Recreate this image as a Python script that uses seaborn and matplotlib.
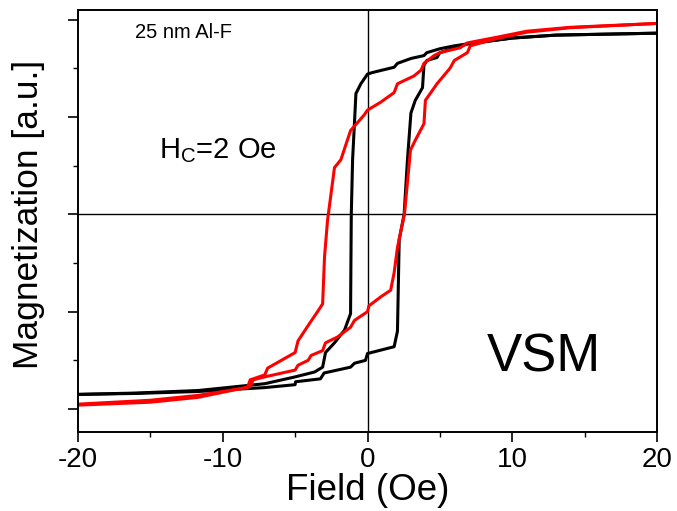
import matplotlib
matplotlib.use("Agg")
import matplotlib.pyplot as plt
import seaborn as sns
from matplotlib.ticker import MultipleLocator

# ---- data ----
black_down_x = [20, 13, 10, 6.9, 6.0, 5.0, 4.1, 3.9, 3.0, 2.07, 1.84, 1.0, 0.3, 0, -0.46, -0.8, -0.9, -1.03, -1.12, -1.15, -1.17, -1.59, -2.28, -2.9, -3.1, -3.66, -5.0, -7.1, -11.7, -16, -20]
black_down_y = [0.93, 0.92, 0.905, 0.875, 0.865, 0.85, 0.83, 0.815, 0.80, 0.775, 0.755, 0.74, 0.727, 0.72, 0.67, 0.62, 0.47, 0.28, 0.0, -0.3, -0.51, -0.595, -0.66, -0.71, -0.785, -0.81, -0.835, -0.87, -0.905, -0.918, -0.925]

black_up_x = [-20, -16, -11.7, -7.1, -5.0, -4.97, -3.25, -3.0, -1.17, -0.9, -0.14, 0, 1.84, 2.07, 2.19, 2.53, 2.76, 3.0, 3.3, 3.8, 3.9, 4.1, 4.8, 5.0, 6.9, 10, 13, 20]
black_up_y = [-0.925, -0.92, -0.91, -0.89, -0.875, -0.86, -0.845, -0.815, -0.785, -0.765, -0.75, -0.715, -0.68, -0.60, -0.13, 0.0, 0.28, 0.52, 0.585, 0.65, 0.765, 0.79, 0.805, 0.83, 0.875, 0.905, 0.92, 0.93]

red_down_x = [20, 14, 11, 9.0, 6.9, 6.4, 5.0, 4.6, 3.9, 3.7, 3.2, 2.07, 1.84, 0.9, 0, -0.23, -1.17, -1.84, -2.28, -2.76, -2.97, -3.1, -3.45, -4.0, -4.8, -5.0, -6.9, -7.1, -8.1, -8.3, -11.7, -15, -20]
red_down_y = [0.98, 0.96, 0.94, 0.91, 0.88, 0.855, 0.83, 0.815, 0.775, 0.74, 0.71, 0.67, 0.625, 0.575, 0.535, 0.51, 0.43, 0.28, 0.24, -0.03, -0.22, -0.46, -0.50, -0.56, -0.65, -0.71, -0.79, -0.825, -0.85, -0.89, -0.93, -0.955, -0.975]

red_up_x = [-20, -15, -11.7, -8.1, -7.9, -7.1, -5.0, -4.8, -4.1, -3.9, -3.1, -2.9, -2.07, -1.17, -0.9, 0, 0.1, 0.9, 1.6, 1.84, 2.07, 2.55, 2.97, 3.3, 3.9, 4.0, 4.8, 5.7, 6.0, 6.9, 7.1, 8.8, 11, 14, 20]
red_up_y = [-0.98, -0.965, -0.94, -0.885, -0.85, -0.835, -0.80, -0.775, -0.75, -0.725, -0.70, -0.66, -0.63, -0.58, -0.545, -0.50, -0.47, -0.425, -0.39, -0.30, -0.17, 0.0, 0.33, 0.38, 0.465, 0.585, 0.67, 0.75, 0.79, 0.83, 0.865, 0.90, 0.935, 0.958, 0.98]

x_ticks = [-20, -10, 0, 10, 20]

sns.set_style("ticks")
plt.rcParams['font.family'] = ['Liberation Sans', 'DejaVu Sans']
plt.rcParams['mathtext.fontset'] = 'custom'
plt.rcParams['mathtext.rm'] = 'Liberation Sans'
plt.rcParams['text.color'] = 'black'
plt.rcParams['axes.labelcolor'] = 'black'

fig = plt.figure(figsize=(6.77, 5.11), dpi=100)
ax = fig.add_axes([78/677, 1-432/511, (657-78)/677, (432-10)/511])

ax.axhline(0, color='black', lw=1.0, zorder=1)
ax.axvline(0, color='black', lw=1.0, zorder=1)

lw = 2.2
sns.lineplot(x=black_down_x, y=black_down_y, sort=False, estimator=None, color='black', lw=lw, ax=ax)
sns.lineplot(x=black_up_x, y=black_up_y, sort=False, estimator=None, color='black', lw=lw, ax=ax)
sns.lineplot(x=red_down_x, y=red_down_y, sort=False, estimator=None, color='#ff0000', lw=lw, ax=ax)
sns.lineplot(x=red_up_x, y=red_up_y, sort=False, estimator=None, color='#ff0000', lw=lw, ax=ax)

ax.set_xlim(-20, 20)
ax.set_ylim(-1.118, 1.049)
ax.set_xticks(x_ticks)
ax.set_xticklabels([str(t) for t in x_ticks])
ax.xaxis.set_minor_locator(MultipleLocator(5))
ax.yaxis.set_major_locator(MultipleLocator(0.5))
ax.yaxis.set_minor_locator(MultipleLocator(0.25))
ax.set_yticklabels([])
ax.tick_params(axis='both', which='major', direction='out', length=7, width=1.2, labelsize=20, colors='black')
ax.tick_params(axis='both', which='minor', direction='out', length=3.5, width=1.0, colors='black')
ax.tick_params(axis='x', pad=4)
for s in ax.spines.values():
    s.set_color('black')
    s.set_linewidth(1.4)

ax.set_xlabel("Field (Oe)", fontsize=26.5, labelpad=0, color='black')
ax.set_ylabel("Magnetization [a.u.]", fontsize=25.5, labelpad=13, color='black')
ax.yaxis.label.set_y(0.515)

fig.text(135/677, 1-33/511, "25 nm Al-F", fontsize=14.5, va='center', ha='left', color='black')
fig.text(159/677, 1-158/511, r"H$_\mathregular{C}$=2 Oe", fontsize=21, va='baseline', ha='left', color='black')
fig.text(487/677, 1-372/511, "VSM", fontsize=38, va='baseline', ha='left', color='black')

fig.savefig("out.png", dpi=100)
